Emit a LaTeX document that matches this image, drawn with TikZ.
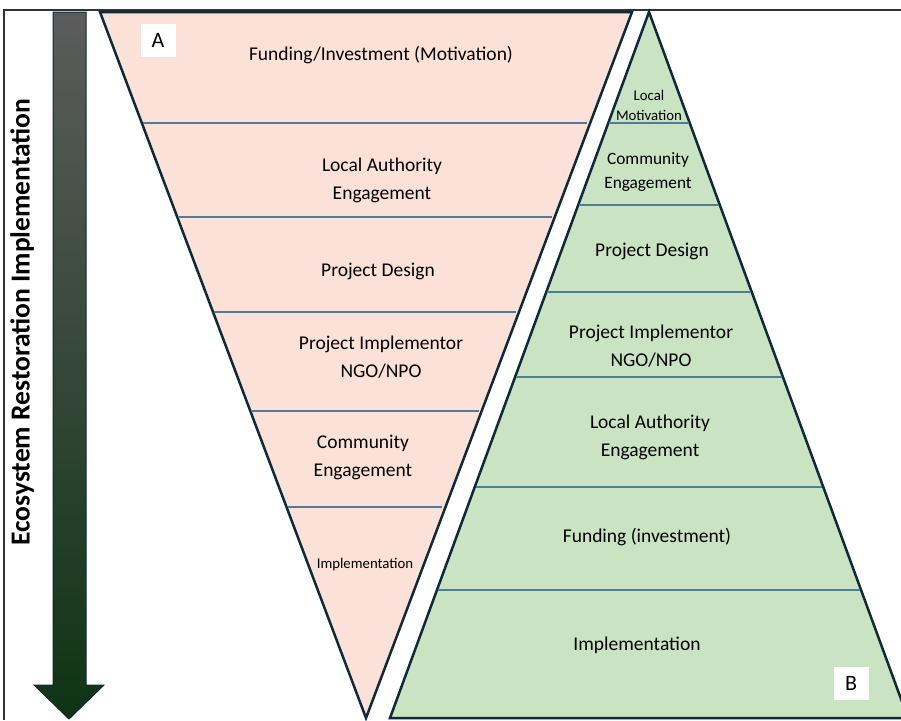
\documentclass[tikz,border=0pt]{standalone}
\usepackage{fontspec}
\setmainfont{Carlito}
\usetikzlibrary{positioning}
\definecolor{peach}{HTML}{FBE1D7}
\definecolor{sage}{HTML}{CAE3C2}
\definecolor{edge}{HTML}{0E2A38}
\definecolor{sep}{HTML}{4E7D96}
\definecolor{arrtop}{HTML}{5C5C5C}
\definecolor{arrbot}{HTML}{0E3414}
\tikzset{every picture/.style={x=1pt,y=-1pt}}

\begin{document}
\begin{tikzpicture}[tri/.style={draw=edge,line width=2.5pt,line join=miter},sp/.style={draw=sep,line width=1.2pt},lt/.style={align=center,font=\fontsize{19.5}{28}\selectfont},st/.style={align=center,font=\fontsize{14.8}{20}\selectfont},tag/.style={fill=white,minimum width=35pt,minimum height=33pt,font=\fontsize{22}{22}\selectfont}]
\useasboundingbox (0,0) rectangle (901,720);
\draw[line width=1.5pt,draw=black!80] (4,720) -- (4,10) -- (901,10);
% arrow down the left side
\shade[top color=arrtop,bottom color=arrbot,draw=edge,line width=1pt] (53,12) -- (86,12) -- (86,685) -- (104,685) -- (69,719) -- (34,685) -- (53,685) -- cycle;
\node (axis) [rotate=90,font=\bfseries\fontsize{27.5}{27.5}\selectfont] at (22,322) {Ecosystem Restoration Implementation};
% inverted pyramid
\filldraw[tri,fill=peach] (100,12) -- (632,12) -- (366,718) -- cycle;
\foreach \y in {123,217,312,411,507}
  \draw[sp] ({101+(\y-12)*0.377},\y) -- ({629-(\y-12)*0.377},\y);
\node (a1) [lt] at (381,55) {Funding/Investment (Motivation)};
\node (a2) [lt] at (382,180) {Local Authority\\Engagement};
\node (a3) [lt] at (378,271) {Project Design};
\node (a4) [lt] at (381,357) {Project Implementor\\NGO/NPO};
\node (a5) [lt] at (363,457) {Community\\Engagement};
\node (a6) [st] at (365,565) {Implementation};
\node (ta) [tag] at (158,40) {A};
% upright pyramid
\filldraw[tri,fill=sage] (649,12) -- (908,718) -- (390,718) -- cycle;
\foreach \y in {123,205,292,377,487,590}
  \draw[sp] ({650-(\y-12)*0.367},\y) -- ({648+(\y-12)*0.367},\y);
\node (b1) [st] at (649,105) {Local\\Motivation};
\node (b2) [lt,font=\fontsize{17.3}{24}\selectfont] at (648,172) {Community\\Engagement};
\node (b3) [lt] at (652,251) {Project Design};
\node (b4) [lt] at (651,346) {Project Implementor\\NGO/NPO};
\node (b5) [lt] at (650,437) {Local Authority\\Engagement};
\node (b6) [lt] at (647,537) {Funding (investment)};
\node (b7) [lt] at (637,645) {Implementation};
\node (tb) [tag] at (851,683) {B};
\end{tikzpicture}
\end{document}
